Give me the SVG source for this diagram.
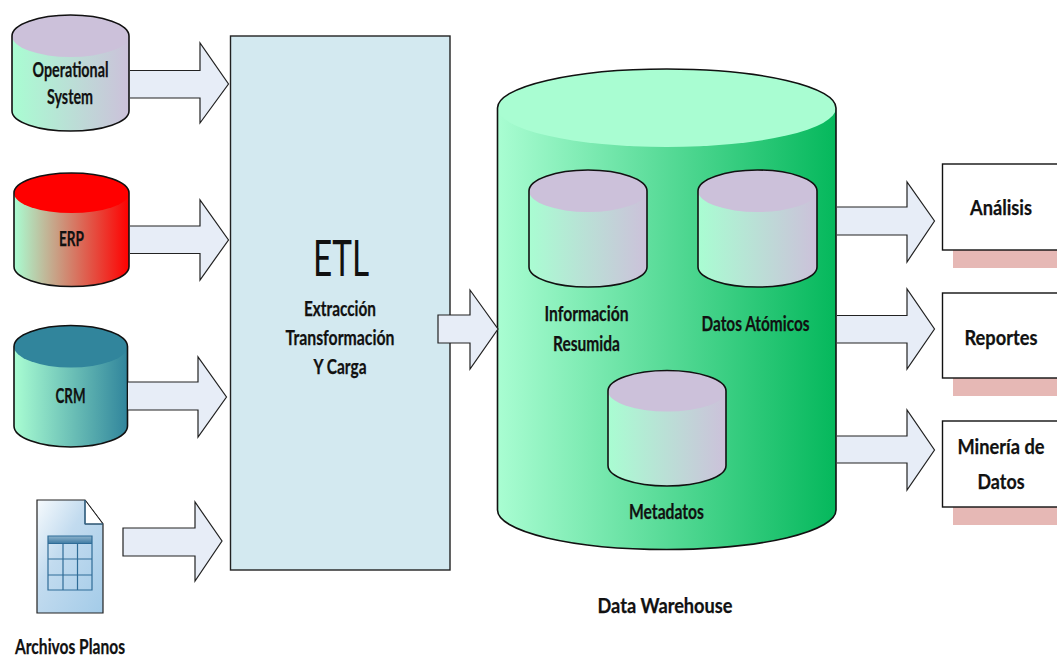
<svg xmlns="http://www.w3.org/2000/svg" width="1057" height="656" viewBox="0 0 1057 656">
<style>
text{font-family:Lato,"Open Sans","Liberation Sans",sans-serif;font-weight:700;font-size:20.5px;fill:#111;stroke:#111;stroke-width:.25;text-anchor:middle}
.arrow{fill:#e7edf7;stroke:#222;stroke-width:1.2}
.cyl{stroke:none}
.outline{fill:none;stroke:#111;stroke-width:1.6}
.lid{stroke:none}
.box{fill:#fff;stroke:#111;stroke-width:1.4}
.shadow{fill:#e6b8b5}
.grid{fill:none;stroke:#2f6c97;stroke-width:1.2}
</style>
<defs>
<linearGradient id="gGrey"><stop offset="0" stop-color="#a9fdd2"/><stop offset="1" stop-color="#ccc1da"/></linearGradient>
<linearGradient id="gRed"><stop offset="0" stop-color="#a9fdd2"/><stop offset="1" stop-color="#ff0000"/></linearGradient>
<linearGradient id="gTeal"><stop offset="0" stop-color="#a9fdd2"/><stop offset="1" stop-color="#31859c"/></linearGradient>
<linearGradient id="gDw"><stop offset="0" stop-color="#a9fdd2"/><stop offset="1" stop-color="#05b85c"/></linearGradient>
<linearGradient id="gFile" x1="0" y1="0" x2="1" y2="1"><stop offset="0" stop-color="#f6fafd"/><stop offset="0.4" stop-color="#c2dbef"/><stop offset="1" stop-color="#a3cbe8"/></linearGradient>
<linearGradient id="gHead" x1="0" y1="0" x2="0" y2="1"><stop offset="0" stop-color="#8fb4cd"/><stop offset="1" stop-color="#3f7ba3"/></linearGradient>
</defs>
<g id="operational">
<path class="cyl" fill="url(#gGrey)" d="M12 36A58.500 21 0 0 1 129 36V111A58.500 20 0 0 1 12 111Z"/>
<ellipse class="lid" cx="70.500" cy="36" rx="58.500" ry="21" fill="#ccc1da"/>
<path class="outline" d="M12 111V36A58.500 21 0 0 1 129 36V111A58.500 20 0 0 1 12 111"/>
<text x="70.500" y="77" textLength="76" lengthAdjust="spacingAndGlyphs">Operational</text>
<text x="70" y="104" textLength="46" lengthAdjust="spacingAndGlyphs">System</text>
</g>
<g id="erp">
<path class="cyl" fill="url(#gRed)" d="M14 193A57.500 20 0 0 1 129 193V266.500A57.500 20 0 0 1 14 266.500Z"/>
<ellipse class="lid" cx="71.500" cy="193" rx="57.500" ry="20" fill="#ff0000"/>
<path class="outline" d="M14 266.500V193A57.500 20 0 0 1 129 193V266.500A57.500 20 0 0 1 14 266.500"/>
<text x="71.500" y="246" textLength="25" lengthAdjust="spacingAndGlyphs">ERP</text>
</g>
<g id="crm">
<path class="cyl" fill="url(#gTeal)" d="M14 346.500A56.750 21 0 0 1 127.500 346.500V426A56.750 21 0 0 1 14 426Z"/>
<ellipse class="lid" cx="70.750" cy="346.500" rx="56.750" ry="21" fill="#31859c"/>
<path class="outline" d="M14 426V346.500A56.750 21 0 0 1 127.500 346.500V426A56.750 21 0 0 1 14 426"/>
<text x="70.500" y="403" textLength="30" lengthAdjust="spacingAndGlyphs">CRM</text>
</g>
<g id="archivos">
<path d="M37 500H85L103 524V613H37Z" fill="url(#gFile)" stroke="#222" stroke-width="1.2"/>
<path d="M85 500L103 524H85Z" fill="#fff" stroke="#222" stroke-width="1"/>
<path d="M85 500V524H103" fill="none" stroke="#2f6c97" stroke-width="1.2"/>
<rect x="48" y="536" width="44" height="7.500" fill="url(#gHead)"/>
<path class="grid" d="M48 536H92V590H48ZM48 543.500H92M48 559H92M48 575H92M63 543.500V590M77.500 543.500V590"/>
<text x="70" y="654" textLength="110" lengthAdjust="spacingAndGlyphs">Archivos Planos</text>
</g>
<g id="etl">
<rect x="230.500" y="36" width="219.500" height="534" fill="#d3e9f0" stroke="#222" stroke-width="1.4"/>
<text x="341" y="276" textLength="56" lengthAdjust="spacingAndGlyphs" style="font-size:50px;font-weight:400;stroke:none">ETL</text>
<text x="340" y="316" textLength="72" lengthAdjust="spacingAndGlyphs">Extracción</text>
<text x="340" y="345" textLength="109" lengthAdjust="spacingAndGlyphs">Transformación</text>
<text x="340" y="374" textLength="53" lengthAdjust="spacingAndGlyphs">Y Carga</text>
</g>
<g id="data-warehouse">
<path class="cyl" fill="url(#gDw)" d="M497.500 108A169.250 39 0 0 1 836 108V510A169.250 39.500 0 0 1 497.500 510Z"/>
<ellipse class="lid" cx="666.750" cy="108" rx="169.250" ry="39" fill="#a9fdd2"/>
<path class="outline" d="M497.500 510V108A169.250 39 0 0 1 836 108V510A169.250 39.500 0 0 1 497.500 510"/>
<text x="665" y="613" textLength="135" lengthAdjust="spacingAndGlyphs">Data Warehouse</text>
</g>
<g id="info-resumida">
<path class="cyl" fill="url(#gGrey)" d="M529 191A59 21 0 0 1 647 191V267A59 20 0 0 1 529 267Z"/>
<ellipse class="lid" cx="588" cy="191" rx="59" ry="21" fill="#ccc1da"/>
<path class="outline" d="M529 267V191A59 21 0 0 1 647 191V267A59 20 0 0 1 529 267"/>
<text x="586.500" y="321" textLength="84" lengthAdjust="spacingAndGlyphs">Información</text>
<text x="586.500" y="351" textLength="67" lengthAdjust="spacingAndGlyphs">Resumida</text>
</g>
<g id="datos-atomicos">
<path class="cyl" fill="url(#gGrey)" d="M698 191A59.500 21 0 0 1 817 191V267A59.500 20 0 0 1 698 267Z"/>
<ellipse class="lid" cx="757.500" cy="191" rx="59.500" ry="21" fill="#ccc1da"/>
<path class="outline" d="M698 267V191A59.500 21 0 0 1 817 191V267A59.500 20 0 0 1 698 267"/>
<text x="755.500" y="331" textLength="108" lengthAdjust="spacingAndGlyphs">Datos Atómicos</text>
</g>
<g id="metadatos">
<path class="cyl" fill="url(#gGrey)" d="M608 391A59 20.500 0 0 1 726 391V465.500A59 20.500 0 0 1 608 465.500Z"/>
<ellipse class="lid" cx="667" cy="391" rx="59" ry="20.500" fill="#ccc1da"/>
<path class="outline" d="M608 465.500V391A59 20.500 0 0 1 726 391V465.500A59 20.500 0 0 1 608 465.500"/>
<text x="666.500" y="519" textLength="75" lengthAdjust="spacingAndGlyphs">Metadatos</text>
</g>
<g id="analisis">
<rect class="shadow" x="953" y="250" width="104" height="18"/>
<rect class="box" x="942.500" y="164" width="120" height="86"/>
<text x="1001" y="215" textLength="62" lengthAdjust="spacingAndGlyphs">Análisis</text>
</g>
<g id="reportes">
<rect class="shadow" x="953" y="378" width="104" height="18"/>
<rect class="box" x="942.500" y="293" width="120" height="85"/>
<text x="1001" y="345" textLength="73" lengthAdjust="spacingAndGlyphs">Reportes</text>
</g>
<g id="mineria">
<rect class="shadow" x="953" y="507" width="104" height="18"/>
<rect class="box" x="942.500" y="421" width="120" height="86"/>
<text x="1001" y="454" textLength="87" lengthAdjust="spacingAndGlyphs">Minería de</text>
<text x="1001" y="489" textLength="47" lengthAdjust="spacingAndGlyphs">Datos</text>
</g>
<g id="connectors">
<path class="arrow" d="M130 70.500H200V43L228.500 84 200 123V98H130"/>
<path class="arrow" d="M130 226H200V200L228.500 240 200 280V253.500H130"/>
<path class="arrow" d="M128 382H198V357L226.500 397 198 437V410H128"/>
<path class="arrow" d="M123 528H195V502L222 541 195 581V556H123Z"/>
<path class="arrow" d="M438 315H470V290L498 329 470 369V343H438Z"/>
<path class="arrow" d="M837 207H907V182L934.500 221 907 262V235H837"/>
<path class="arrow" d="M837 315.500H907V289L934.500 329 907 369V343H837"/>
<path class="arrow" d="M837 436H907V410L934.500 450 907 490V463H837"/>
</g>
</svg>
